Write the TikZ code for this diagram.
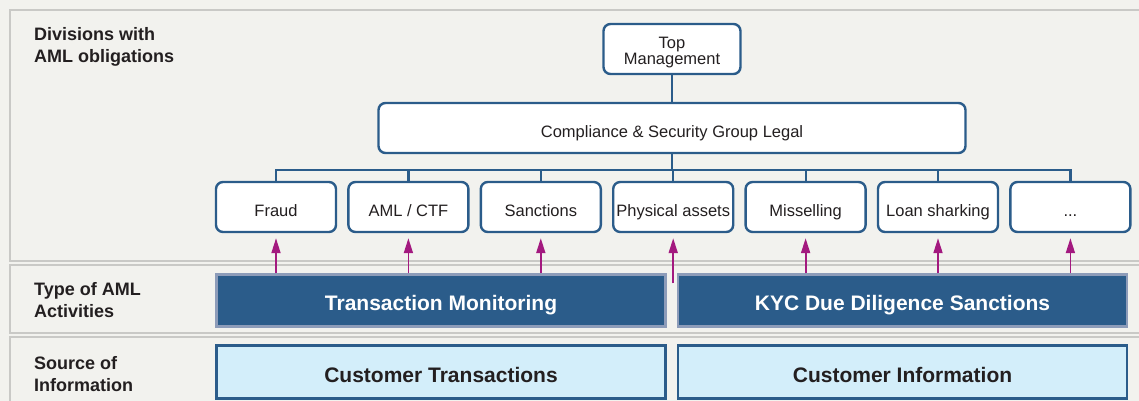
\documentclass[tikz,border=0pt]{standalone}
\usepackage{fontspec}
\setmainfont{Liberation Sans}
\usetikzlibrary{positioning,arrows.meta}

\definecolor{paper}{HTML}{F2F2EE}
\definecolor{rule}{HTML}{C9C9C6}
\definecolor{navy}{HTML}{2B5C8A}
\definecolor{slate}{HTML}{8D9CB9}
\definecolor{sky}{HTML}{D3EEFA}
\definecolor{plum}{HTML}{A3197F}
\definecolor{ink}{HTML}{231F20}

\begin{document}
\begin{tikzpicture}[x=1pt,y=-1pt,node distance=10pt,>={Triangle[width=9pt,length=15pt]},
	unit/.style={draw=navy,line width=2.4pt,fill=white,rounded corners=7pt,minimum width=120pt,minimum height=50pt,inner sep=0pt,text height=18pt,text depth=-6pt,align=center,text=ink,font=\fontsize{16.5}{16}\selectfont},
	activity/.style={draw=slate,line width=2.5pt,fill=navy,minimum width=449pt,minimum height=52pt,inner sep=0pt,text height=20pt,text depth=-5pt,text=white,font=\fontsize{21}{24}\selectfont\bfseries},
	source/.style={draw=navy,line width=2.5pt,fill=sky,minimum width=449pt,minimum height=53pt,inner sep=0pt,text height=20pt,text depth=-5pt,text=ink,font=\fontsize{21}{24}\selectfont\bfseries},
	rowlabel/.style={anchor=north west,inner sep=0pt,align=left,text=ink,font=\fontsize{18}{22}\selectfont\bfseries},
	band/.style={draw=rule,line width=1.5pt},
	link/.style={draw=navy,line width=2.2pt,line cap=rect},
	flow/.style={draw=plum,line width=1.8pt,->,shorten >=5pt}]
	\useasboundingbox (0,0) rectangle (1139,401);
	\fill[paper] (0,0) rectangle (1139,401);
	\draw[band] (10,10) rectangle (1160,261);
	\draw[band] (10,265) rectangle (1160,333);
	\draw[band] (10,337) rectangle (1160,420);
	%
	\node[rowlabel] (divlbl) at (34,27) {Divisions with\\AML obligations};
	\node[rowlabel] (typelbl) at (34,282) {Type of AML\\Activities};
	\node[rowlabel] (srclbl) at (34,356) {Source of\\Information};
	%
	\node[unit,minimum width=137pt,text height=32pt,text depth=-2pt] (top) at (672,49) {Top\\Management};
	\node[unit,minimum width=587pt] (comp) at (672,128) {Compliance \& Security Group Legal};
	\node[unit] (fraud) at (276,207) {Fraud};
	\node[unit,right=of fraud] (aml) {AML / CTF};
	\node[unit,right=of aml] (sanc) {Sanctions};
	\node[unit,right=of sanc] (phys) {Physical assets};
	\node[unit,right=of phys] (missel) {Misselling};
	\node[unit,right=of missel] (loan) {Loan sharking};
	\node[unit,right=of loan] (more) {...};
	%
	\node[activity] (tm) at (441,300.5) {Transaction Monitoring};
	\node[activity,right=of tm] (kyc) {KYC Due Diligence Sanctions};
	\node[source] (ct) at (441,372) {Customer Transactions};
	\node[source,right=of ct] (ci) {Customer Information};
	%
	\coordinate (bus) at (672,170);
	\draw[link] (top) -- (comp);
	\draw[link] (comp) -- (comp |- bus);
	\draw[link] (fraud |- bus) -- (more |- bus);
	\foreach \d in {fraud,aml,sanc,phys,missel,loan,more}
		\draw[link] (\d |- bus) -- (\d);
	%
	\foreach \d in {fraud,aml,sanc}
		\draw[flow] (\d |- tm.north) -- (\d);
	\foreach \d in {missel,loan,more}
		\draw[flow] (\d |- kyc.north) -- (\d);
	\draw[flow] (phys |- tm.north) ++(0,10) -- (phys);
\end{tikzpicture}
\end{document}
